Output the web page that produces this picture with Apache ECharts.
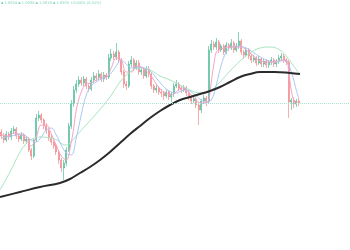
<!DOCTYPE html>
<html><head><meta charset="utf-8">
<script src="https://cdn.jsdelivr.net/npm/echarts@6/dist/echarts.min.js"></script>
<style>html,body{margin:0;padding:0;background:#fff}#c{width:350px;height:250px}</style>
</head><body><div id="c"></div>
<script>
// candle data (price units; the axis is hidden)
const opens = [118,114,110,116,113,119,121,114,111,115,109,111,100,94,110,132,135,130,124,119,112,108,104,98,90,82,87,100,124,146,160,166,170,167,171,164,161,170,174,172,176,171,175,173,192,196,193,198,190,178,166,164,186,190,182,187,178,180,174,181,176,164,160,162,158,157,154,158,153,156,164,166,162,160,162,157,153,149,151,145,140,149,152,148,200,206,203,208,200,204,198,205,202,207,200,204,209,198,195,200,194,190,192,187,191,186,189,185,188,190,186,189,192,194,190,188,148,150,146,149];
const closes = [114,110,116,113,119,121,114,111,115,109,111,100,94,110,132,135,130,124,119,112,108,104,98,90,82,87,100,124,146,160,166,170,167,171,164,161,170,174,172,176,171,175,173,192,196,193,198,190,178,166,164,186,190,182,187,178,180,174,181,176,164,160,162,158,157,154,158,153,156,164,166,162,160,162,157,153,149,151,145,140,149,152,148,200,206,203,208,200,204,198,205,202,207,200,204,209,198,195,200,194,190,192,187,191,186,189,185,188,190,186,189,192,194,190,188,148,150,146,149,147];
const highs = [121,117,119,118,122,124,123,116,118,117,114,113,102,112,136,139,137,132,127,121,115,111,106,100,92,90,103,127,150,164,170,174,173,174,173,167,173,178,177,180,178,178,177,196,201,199,207,200,192,180,169,189,194,192,190,190,183,182,184,184,178,166,165,164,161,159,161,160,158,167,170,168,164,165,164,160,155,153,153,148,151,155,154,204,210,209,212,210,206,206,208,207,211,209,207,218,211,200,203,202,196,195,194,194,193,191,191,190,193,192,191,195,197,196,192,190,152,153,151,152];
const lows = [111,107,108,110,110,116,111,108,109,106,106,98,90,92,108,129,127,121,116,109,105,101,95,86,78,70,84,98,121,143,157,163,164,164,161,158,159,167,169,170,168,168,170,171,189,190,190,187,175,162,160,162,183,179,180,175,175,171,172,173,161,157,157,155,153,150,152,150,148,153,162,159,157,158,154,150,146,147,142,125,137,146,144,146,197,200,200,197,198,195,196,199,200,197,198,201,195,191,193,191,187,188,184,185,183,183,182,182,185,183,183,186,189,187,185,132,140,142,143,144];
const totalSlots = 140;
const lastPrice = 147;

// moving average lines: candle index positions and values
const fastIdx  = [0,3,5,8,10,12,14,16,18,20,22,24,26,28,29,30,32,34,36,38,40,42,44,46,48,50,52,54,56,58,60,62,64,66,68,70,72,74,76,78,80,82,83,84,85,86,87,89,92,95,97,99,101,103,106,109,112,114,115,116,117,118,119];
const fastVal  = [115,114,117,115,112,104,113,125,125,116,105,94,90,108,122,140,158,166,167,170,173,173,182,192,190,178,178,184,183,179,174,166,160,157,155,158,162,160,155,150,147,147,150,168,185,198,200,202,203,203,202,198,194,190,188,188,190,190,178,160,150,148,148];
const midIdx   = [0,4,8,12,14,16,18,20,22,24,26,28,30,32,34,36,38,40,42,44,46,48,50,52,54,56,58,60,62,64,66,68,70,72,74,76,78,80,82,84,86,88,90,92,95,98,100,103,106,109,112,113,115,116,117,118,119];
const midVal   = [112,114,116,110,108,113,120,122,115,105,97,95,112,135,155,164,168,171,173,177,184,190,186,182,182,183,181,178,172,166,161,158,157,159,160,158,154,150,148,150,165,185,198,203,204,202,199,194,190,188,189,190,185,178,170,160,152];
const slowIdx  = [-0.5,3.5,7.5,9.5,11.5,15.5,19.5,22.3,25.5,27.5,30.3,34.3,38.3,43.5,47.5,51.5,55.5,59.5,63.5,67.5,71.5,75.5,79.5,83.5,87.5,91.5,95.5,99.5,103.5,107.5,111.5,114.3,116.7,119.5];
const slowVal  = [60,78,98,105,110,113,112,110,105,107,115,126,137,153,168,178,182,180,174,170,165,160,157,159,168,179,189,197,202,203,200,193,185,175];
const longIdx  = [-0.5,7.5,15.5,23.5,27.5,31.5,35.5,39.5,43.5,47.5,51.5,55.5,59.5,63.5,67.5,71.5,75.5,79.5,83.5,87.5,91.5,95.5,99.5,103.5,109.5,115.5,119.5];
const longVal  = [53,58,63,67,71,77,83,90,98,107,116,124,132,139,145,150,153,156,159,163,168,173,176,178,178,177,176];

const legendText = '\u25AA 1.0924 \u25AA 1.0930 \u25AA 1.0918 \u25AA 1.0925 +0.0001 (0.01%)';

const categories = [];
for (let i = 0; i < totalSlots; i++) categories.push('#' + (i + 1));
const candles = opens.map((o, i) => [o, closes[i], lows[i], highs[i]]);
const pairs = (xs, ys) => xs.map((x, i) => [x, ys[i]]);

const chart = echarts.init(document.getElementById('c'), null, {renderer: 'canvas'});
const lineSeries = (name, xs, ys, color, width, smooth) => ({
  name, type: 'line', xAxisIndex: 1, yAxisIndex: 0, data: pairs(xs, ys),
  smooth: smooth, showSymbol: false, symbol: 'none', silent: true,
  lineStyle: {color, width}, z: 3
});
chart.setOption({
  animation: false,
  backgroundColor: '#ffffff',
  grid: {left: 0, right: 0, top: 0, bottom: 0},
  xAxis: [
    {type: 'category', data: categories, show: false, boundaryGap: true},
    {type: 'value', min: -0.5, max: totalSlots - 0.5, show: false}
  ],
  yAxis: [{type: 'value', min: 0, max: 250, show: false}],
  graphic: [{type: 'text', left: 1, top: 1, style: {text: legendText, fontSize: 3.6, fill: '#7dd3b6', fontFamily: 'DejaVu Sans'}}],
  series: [
    {
      type: 'candlestick', data: candles, barWidth: '65%',
      itemStyle: {color: '#3fb58f', color0: '#f07a7a', borderColor: '#3fb58f', borderColor0: '#f07a7a', borderWidth: 1, opacity: 0.6},
      markLine: {silent: true, symbol: 'none', label: {show: false},
        lineStyle: {color: '#a8e0d0', type: 'dotted', width: 1},
        data: [{yAxis: lastPrice}]},
      z: 2
    },
    lineSeries('slow', slowIdx, slowVal, '#a8e6c0', 1, 0.4),
    lineSeries('mid', midIdx, midVal, '#a9c8f5', 1, 0.4),
    lineSeries('fast', fastIdx, fastVal, '#f5a3c7', 1, 0.4),
    lineSeries('long', longIdx, longVal, '#2b2b2b', 2, 0.4)
  ]
});
</script></body></html>
